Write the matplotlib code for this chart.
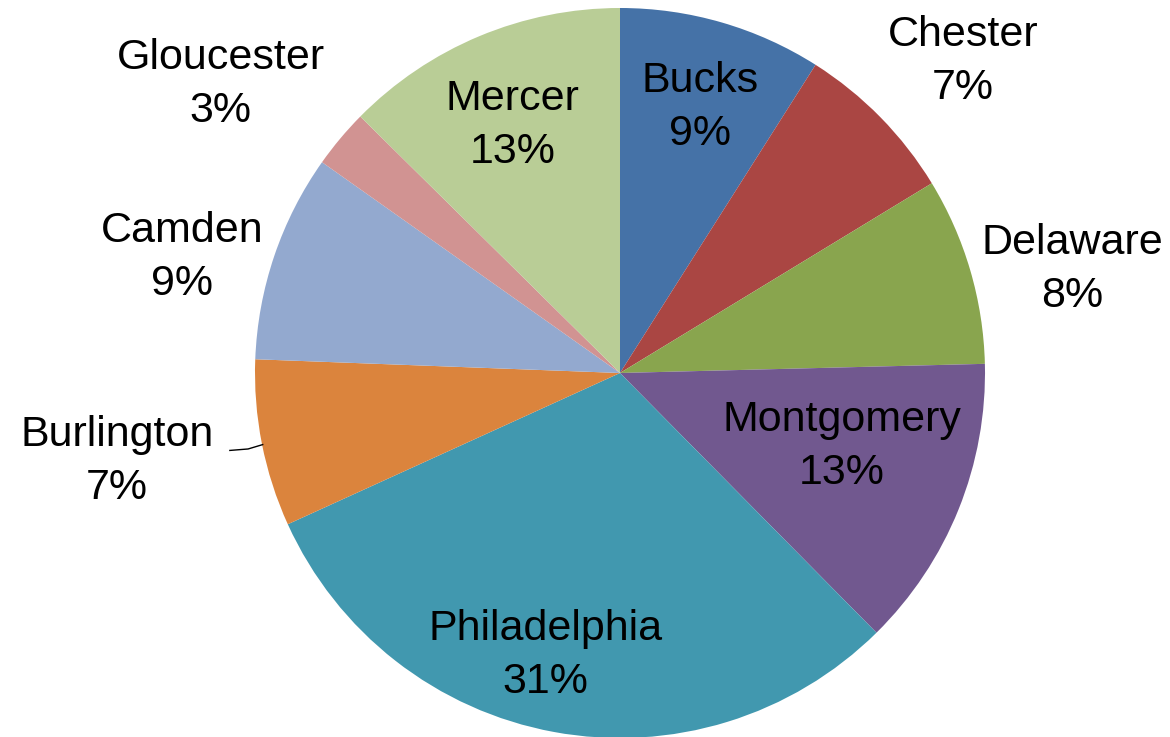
import numpy as np
import matplotlib.pyplot as plt

# County shares (percent), clockwise from 12 o'clock
counties = ['Bucks', 'Chester', 'Delaware', 'Montgomery', 'Philadelphia',
            'Burlington', 'Camden', 'Gloucester', 'Mercer']
shares = [9.0, 7.3, 8.3, 13.0, 30.6, 7.4, 9.2, 2.6, 12.6]
colors = ['#4572A7', '#AA4643', '#89A54E', '#71588F', '#4198AF',
          '#DB843D', '#93A9CF', '#D19392', '#B9CD96']

# label placement: distance from centre (radii) and angular nudge (deg, clockwise)
label_r = [0.76, 1.27, 1.27, 0.64, 0.80, 1.40, 1.24, 1.35, 0.74]
label_shift = [0.6, 2.2, 3.5, -3.6, 4.4, 1.2, -3.9, -4.1, -0.7]

plt.rcParams['font.family'] = ['Liberation Sans', 'DejaVu Sans']

fig = plt.figure(figsize=(11.7, 7.37), dpi=100)
ax = fig.add_axes([0, 0, 1, 1])

wedges, _ = ax.pie(shares, colors=colors, startangle=90, counterclock=False,
                   wedgeprops=dict(linewidth=0))

for w, name, val, r, sh in zip(wedges, counties, shares, label_r, label_shift):
    mid = np.deg2rad((w.theta1 + w.theta2) / 2 - sh)
    x, y = r * np.cos(mid), r * np.sin(mid)
    ax.text(x, y, f'{name}\n{val:.0f}%', ha='center', va='center',
            fontsize=31, linespacing=1.42, color='black')
    if name == 'Burlington':
        # short leader line to the slice edge
        ax.plot([x + 0.31, x + 0.36, x + 0.40], [y + 0.030, y + 0.034, y + 0.046],
                color='black', lw=1)

R = 365.0
ax.set_aspect('auto')
ax.set_xlim(-620 / R, (1170 - 620) / R)
ax.set_ylim(-(737 - 373) / R, 373 / R)
ax.axis('off')

fig.savefig('out.png', dpi=100)
